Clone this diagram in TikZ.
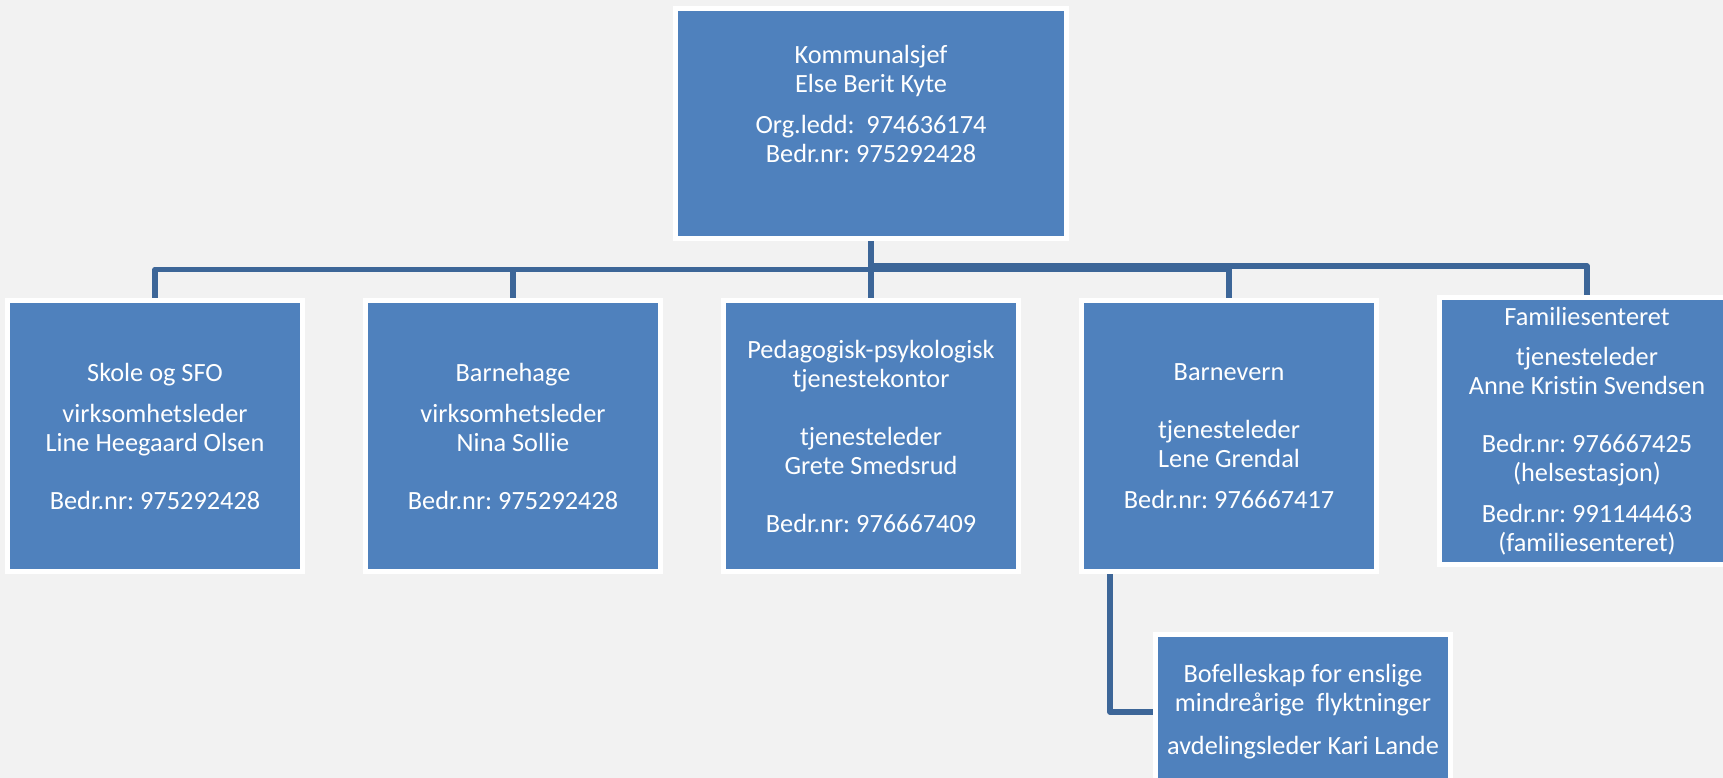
\documentclass[tikz,border=0pt]{standalone}
\usepackage{fontspec}
\setmainfont{Carlito}[Ligatures=NoCommon]
\usepackage{tikz}
\usetikzlibrary{backgrounds}
\frenchspacing
\definecolor{boxblue}{HTML}{4F81BD}
\definecolor{linkblue}{HTML}{3D6698}
\definecolor{paper}{HTML}{F2F2F2}
\tikzset{orgbox/.style={draw=white, line width=5pt, fill=boxblue, text=white, align=center,
		minimum width=295pt, minimum height=271pt, inner sep=0pt,
		font=\fontsize{26.3}{29}\selectfont},
	link/.style={draw=linkblue, line width=5.5pt, line join=round}}

\begin{document}
\begin{tikzpicture}[x=1pt, y=-1pt, node distance=358pt]
	\useasboundingbox (0,0) rectangle (1723,778);

	\node[orgbox, minimum width=391pt, minimum height=230pt] (sjef) at (871,123.5) {
		Kommunalsjef\\Else Berit Kyte\\[12pt]Org.ledd:~ 974636174\\Bedr.nr: 975292428\\[11pt]\mbox{}
	};

	\node[orgbox, below of=sjef, node distance=312.5pt] (ppt) {
		Pedagogisk-psykologisk\\tjenestekontor\\[29pt]tjenesteleder\\Grete Smedsrud\\[29pt]Bedr.nr: 976667409
	};

	\node[orgbox, left of=ppt] (barnehage) {
		Barnehage\\[12pt]virksomhetsleder\\Nina Sollie\\[29pt]Bedr.nr: 975292428
	};

	\node[orgbox, left of=barnehage] (skole) {
		Skole og SFO\\[12pt]virksomhetsleder\\Line Heegaard Olsen\\[29pt]Bedr.nr: 975292428
	};

	\node[orgbox, right of=ppt] (barnevern) {
		Barnevern\\[29pt]tjenesteleder\\Lene Grendal\\[12pt]Bedr.nr: 976667417
	};

	\node[orgbox, right of=barnevern, yshift=5pt, minimum height=267pt] (familie) {
		Familiesenteret\\[11pt]tjenesteleder\\Anne Kristin Svendsen\\[29pt]Bedr.nr: 976667425\\(helsestasjon)\\[12pt]Bedr.nr: 991144463\\(familiesenteret)
	};

	\node[orgbox, below of=barnevern, node distance=276pt, xshift=74pt, minimum height=155pt] (bofellesskap) {
		Bofelleskap for enslige\\mindreårige~ flyktninger\\[14pt]avdelingsleder Kari Lande
	};

	\begin{scope}[on background layer]
		\fill[paper] (0,0) rectangle (1723,778);
		\draw[link] (sjef.south) -- ++(0,28.5) -| (skole.north);
		\draw[link] (sjef.south) -- ++(0,28.5) -| (barnehage.north);
		\draw[link] (sjef.south) -- (ppt.north);
		\draw[link] (sjef.south) -- ++(0,28.5) -| (barnevern.north);
		\draw[link] (sjef.south) -- ++(0,25) -| (familie.north);
		\draw[link] ([xshift=-119pt]barnevern.south) |- (bofellesskap.west);
	\end{scope}
\end{tikzpicture}
\end{document}
